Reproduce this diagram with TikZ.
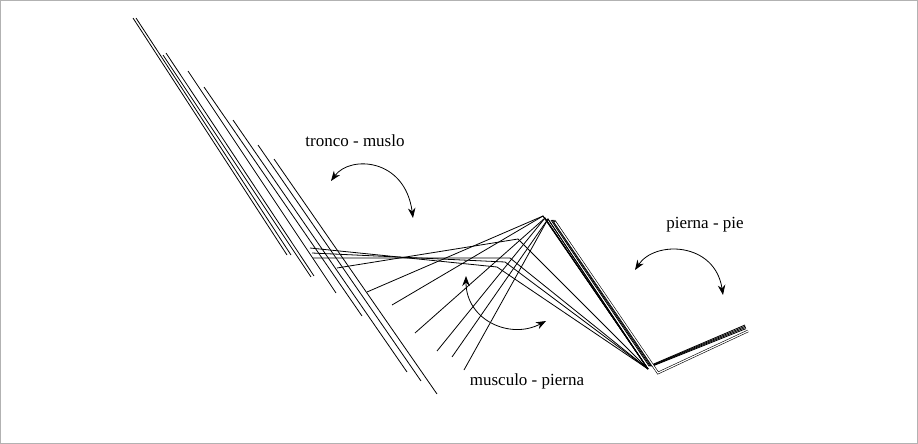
\documentclass[tikz,border=0pt]{standalone}
\usepackage{fontspec}
\setmainfont{Liberation Serif}
\usetikzlibrary{arrows.meta,calc}
\begin{document}
\begin{tikzpicture}[x=1pt,y=-1pt,
  seg/.style={line width=0.8pt, line join=miter},
  dbl/.style={line width=0.6pt, double, double distance=1.2pt},
  turn/.style={line width=0.8pt, {Stealth[length=10pt,width=7.5pt]}-{Stealth[length=10pt,width=7.5pt]}},
  lbl/.style={font=\fontsize{17}{20}\selectfont, inner sep=0pt}]
\useasboundingbox (0,0) rectangle (918,444);
\draw[gray!60, line width=0.8pt] (0.5,0.5) rectangle (917.5,443.5);

% ankle
\coordinate (A) at (648,369);

% trunk lines
\draw[seg] (133,18) -- (287,255);
\draw[seg] (136,18) -- (291,255);
\draw[seg] (166,53) -- (314,276);
\draw[seg] (163,55) -- (311,277);
\draw[seg] (188,71) -- (336,293);
\draw[seg] (204,87) -- (362,316);
\draw[seg] (233,120) -- (407,372);
\draw[seg] (258,145) -- (421,381);
\draw[seg] (274,159) -- (437,394);

% thigh + shank lines
\draw[seg] (310,248) -- (497,267) -- (A);
\draw[seg] (312,253) -- (505,262) -- (A);
\draw[seg] (313,258) -- (510,258) -- (A);
\draw[seg] (337,268) -- (518,239) -- (A);
\draw[seg] (367,292) -- (543,216) -- (A);
\draw[seg] (392,305) -- (543,216) -- (A);
\draw[seg] (415,333) -- (545,218) -- (A);
\draw[seg] (437,351) -- (545,218) -- (A);
\draw[seg] (452,357) -- (548,219) -- (A);
\draw[seg] (464,370) -- (548,219) -- (A);

% thick shank + foot band
\foreach \d in {0,1.2,2.4,3.6}{
  \draw[seg] ($(551,220)+(\d,0)$) -- ($(649,366)+(\d,0)$) -- ($(745,325)+(\d*0.3,\d)$);
}
\draw[dbl] (555,222) -- (658,373) -- (748,331);

% rotation arrows
\draw[turn] (331,181) .. controls (350,155) and (405,158) .. (413,218);
\draw[turn] (635,270) .. controls (655,240) and (715,242) .. (723,295);
\draw[turn] (466,276) .. controls (466,320) and (510,340) .. (546,321);

% labels
\node[lbl] (t1) at (355,141) {tronco - muslo};
\node[lbl] (t2) at (705,225) {pierna - pie};
\node[lbl] (t3) at (527,381) {musculo - pierna};
\end{tikzpicture}
\end{document}
